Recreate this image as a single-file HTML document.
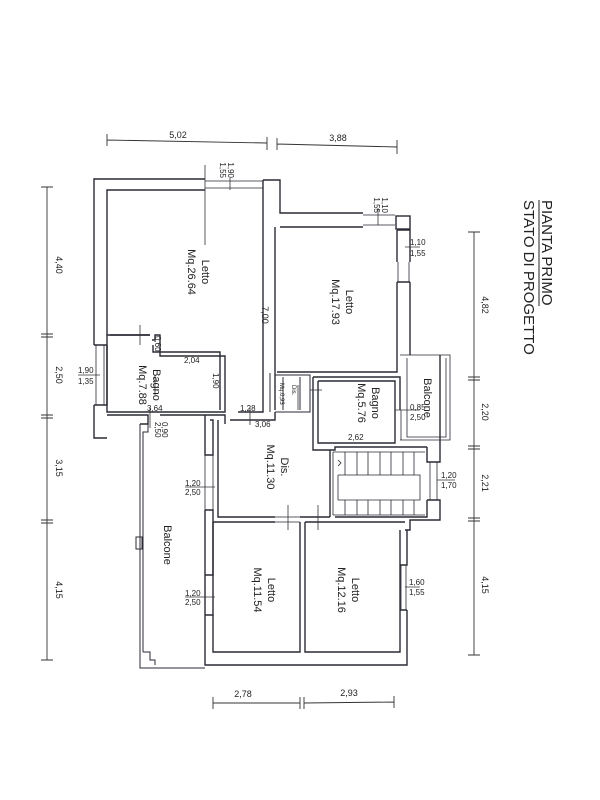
<!DOCTYPE html>
<html><head><meta charset="utf-8"><style>
html,body{margin:0;padding:0;background:#fff;}
svg{display:block;}
text{font-family:"Liberation Sans",sans-serif;fill:#222;}
</style></head><body>
<svg width="600" height="800" viewBox="0 0 600 800" xmlns="http://www.w3.org/2000/svg">
<rect width="600" height="800" fill="#fff"/>
<g fill="none" stroke="#2a2a35" stroke-width="1.4">
<path d="M205 179 L94 179 L94 345 M94 405 L94 438 L107 438"/>
<path d="M205 190 L107 190 L107 335 L150 335"/>
<path d="M263 180 L280 180 L280 213 L363 213 M263 180 L263 405"/>
<path d="M280 227 L363 227 M275 227 L275 410"/>
<path d="M205 181 L263 181 M205 188 L263 188 M363 215 L395 215 M363 225 L395 225" stroke-width="0.8"/>
<rect x="396" y="216" width="14" height="13"/>
<path d="M397 230 L410 230 L410 262 M397 230 L397 262 M397 282 L397 372 L277 372 M410 282 L410 355 M397 282 L410 282"/>
<path d="M398 262 L398 282 M409 262 L409 282" stroke-width="0.8"/>
<path d="M94 345 L107 345 M94 405 L107 405 L107 345"/>
<path d="M96 345 L96 405 M104 345 L104 405" stroke-width="0.8"/>
<path d="M107 335 L107 412 L225 412 L225 356 L160 356 L160 335 L155 335 L155 340 L152 340 M153 345 L153 352 L220 352 L220 410"/>
<path d="M107 415 L148 415 L148 424 L140 424 M160 415 L225 415 L225 424 M238 412 L263 412 L263 405 M110 335 L150 335" />
<path d="M230 420 L275 420 L275 412 M210 420 L213 420 L213 455 L205 455 L205 415"/>
<path d="M275 375 L310 375 L310 412 L275 412 M270 373 L270 412 M300 377 L300 410 M283 377 L283 410" stroke-width="1"/>
<path d="M313 377 L400 377 L400 410 M318 381 L395 381 L395 443 L318 443 L318 381 M313 377 L313 450 L335 450 L335 447 L427 447"/>
<path d="M400 355 L450 355 L450 440 L400 440 M401 410 L401 440 M407 358 L407 437 L446 437 L446 358" stroke-width="0.8"/>
<path d="M427 447 L427 462 L440 462 L440 355 M427 500 L440 500 L440 520 L410 520 L410 530 L405 530"/>
<path d="M430 462 L430 500 M437 462 L437 500" stroke-width="0.8"/>
<path d="M218 420 L218 517 L275 517 M300 517 L330 517 M330 517 L330 450 M335 517 L427 517 L427 500"/>
<path d="M205 455 L205 510 M213 455 L213 510" stroke-width="0.8"/>
<path d="M205 510 L213 510 L213 575 L205 575 M205 510 L205 575"/>
<g stroke-width="0.8">
<path d="M333 452 L425 452 M333 515 L425 515 M333 452 L333 515 M338 475 L420 475 L420 500 L338 500 M338 475 L338 500"/>
<path d="M345 452 L345 475 M357 452 L357 475 M368 452 L368 475 M380 452 L380 475 M391 452 L391 475 M403 452 L403 475 M414 452 L414 475"/>
<path d="M345 500 L345 515 M357 500 L357 515 M368 500 L368 515 M380 500 L380 515 M391 500 L391 515 M403 500 L403 515 M414 500 L414 515"/>
<path d="M338 466 L341 463 L338 460"/>
</g>
<path d="M213 522 L275 522 M305 522 L405 522 M213 522 L213 575 M213 615 L213 652 L300 652 L300 522 M305 522 L305 652 L400 652 L400 530"/>
<path d="M205 615 L213 615 L213 575 M205 575 L205 665 L407 665 L407 610 M400 565 L407 565 L407 530 M400 610 L407 610"/>
<path d="M205 575 L205 615 M213 575 L213 615 M401 565 L401 610 M406 565 L406 610" stroke-width="0.8"/>
<path d="M275 517 L300 517 M275 522 L300 522" stroke-width="0.8"/>
<path d="M140 424 L148 424 L148 432 L143 432 L143 652 M140 424 L140 668 L205 668 M143 652 L150 652 L150 660 L155 660 L155 665" stroke-width="1"/>
<rect x="136" y="537" width="6" height="12" stroke-width="1"/>
</g>
<g stroke="#333" stroke-width="0.8">
<path d="M140 325 L140 345 M155 375 L155 395 M150 408 L150 428 M250 408 L250 425 M310 390 L322 390 M288 505 L288 530 M318 505 L318 530 M298 385 L298 410 M205 245 L205 165 M230 178 L230 190"/>
<path d="M378 208 L378 225 M405 247 L420 247 M395 410 L420 410 M437 480 L455 480 M405 587 L420 587 M185 487 L215 487 M185 597 L215 597 M78 375 L100 375"/>
</g>
<g stroke="#333" stroke-width="0.9" fill="none">
<path d="M107 140 L267 143 M107 134 L107 146 M267 137 L267 150 M277 138 L277 150 M277 144 L397 147 M397 140 L397 154"/>
<path d="M47 187 L47 660 M41 187 L53 187 M41 660 L53 660 M41 334 L53 334 M41 337 L53 337 M41 415 L53 415 M41 418 L53 418 M41 520 L53 520 M41 523 L53 523"/>
<path d="M474 232 L474 655 M468 232 L480 232 M468 655 L480 655 M468 377 L480 377 M468 380 L480 380 M468 446 L480 446 M468 449 L480 449 M468 518 L480 518 M468 521 L480 521"/>
<path d="M213 703 L300 703 M213 697 L213 709 M300 697 L300 709 M304 697 L304 709 M304 703 L394 702 M394 696 L394 708"/>
</g>
<g font-size="9">
<text x="178" y="138" text-anchor="middle">5,02</text>
<text x="338" y="141" text-anchor="middle">3,88</text>
<text x="243" y="697" text-anchor="middle">2,78</text>
<text x="349" y="696" text-anchor="middle">2,93</text>
<text transform="translate(56 265) rotate(90)" text-anchor="middle">4,40</text>
<text transform="translate(56 375) rotate(90)" text-anchor="middle">2,50</text>
<text transform="translate(56 468) rotate(90)" text-anchor="middle">3,15</text>
<text transform="translate(56 590) rotate(90)" text-anchor="middle">4,15</text>
<text transform="translate(482 305) rotate(90)" text-anchor="middle">4,82</text>
<text transform="translate(482 412) rotate(90)" text-anchor="middle">2,20</text>
<text transform="translate(482 483) rotate(90)" text-anchor="middle">2,21</text>
<text transform="translate(482 585) rotate(90)" text-anchor="middle">4,15</text>
<text transform="translate(262 315) rotate(90)" text-anchor="middle">7,00</text>
</g>
<g font-size="8">
<text transform="translate(228 178) rotate(90)" text-anchor="end">1,90</text>
<text transform="translate(220 178) rotate(90)" text-anchor="end">1,55</text>
<text transform="translate(382 213) rotate(90)" text-anchor="end">1,10</text>
<text transform="translate(374 213) rotate(90)" text-anchor="end">1,55</text>
<text x="410" y="245">1,10</text><text x="410" y="256">1,55</text>
<text x="78" y="373">1,90</text><text x="78" y="384">1,35</text>
<text x="184" y="363">2,04</text>
<text transform="translate(213 373) rotate(90)">1,90</text>
<text x="147" y="411">3,64</text>
<text x="240" y="411">1,28</text>
<text x="255" y="427">3,06</text>
<text transform="translate(162 422) rotate(90)">0,90</text>
<text transform="translate(155 422) rotate(90)">2,50</text>
<text transform="translate(155 336) rotate(90)">0,60</text>
<text x="410" y="410">0,85</text><text x="410" y="420">2,50</text>
<text x="348" y="440">2,62</text>
<text x="185" y="486">1,20</text><text x="185" y="495">2,50</text>
<text x="185" y="596">1,20</text><text x="185" y="605">2,50</text>
<text x="441" y="478">1,20</text><text x="441" y="488">1,70</text>
<text x="409" y="585">1,60</text><text x="409" y="595">1,55</text>
<text transform="translate(280 383) rotate(90)" font-size="6">Mq.0,93</text>
<text transform="translate(292 385) rotate(90)" font-size="6">Dis.</text>
</g>
<g font-size="11">
<text transform="translate(202 272) rotate(90)" text-anchor="middle">Letto</text>
<text transform="translate(188 272) rotate(90)" text-anchor="middle">Mq.26.64</text>
<text transform="translate(346 302) rotate(90)" text-anchor="middle">Letto</text>
<text transform="translate(332 302) rotate(90)" text-anchor="middle">Mq.17.93</text>
<text transform="translate(153 385) rotate(90)" text-anchor="middle">Bagno</text>
<text transform="translate(139 385) rotate(90)" text-anchor="middle">Mq.7.88</text>
<text transform="translate(372 403) rotate(90)" text-anchor="middle">Bagno</text>
<text transform="translate(358 403) rotate(90)" text-anchor="middle">Mq.5.76</text>
<text transform="translate(424 398) rotate(90)" text-anchor="middle">Balcone</text>
<text transform="translate(281 467) rotate(90)" text-anchor="middle">Dis.</text>
<text transform="translate(267 467) rotate(90)" text-anchor="middle">Mq.11.30</text>
<text transform="translate(164 545) rotate(90)" text-anchor="middle">Balcone</text>
<text transform="translate(268 590) rotate(90)" text-anchor="middle">Letto</text>
<text transform="translate(254 590) rotate(90)" text-anchor="middle">Mq.11.54</text>
<text transform="translate(352 590) rotate(90)" text-anchor="middle">Letto</text>
<text transform="translate(338 590) rotate(90)" text-anchor="middle">Mq.12.16</text>
</g>
<g font-size="15">
<text transform="translate(542 200) rotate(90)">PIANTA  PRIMO</text>
<text transform="translate(524 200) rotate(90)">STATO  DI  PROGETTO</text>
</g>
<path d="M539 200 L539 306" stroke="#222" stroke-width="1"/>
</svg>
</body></html>
